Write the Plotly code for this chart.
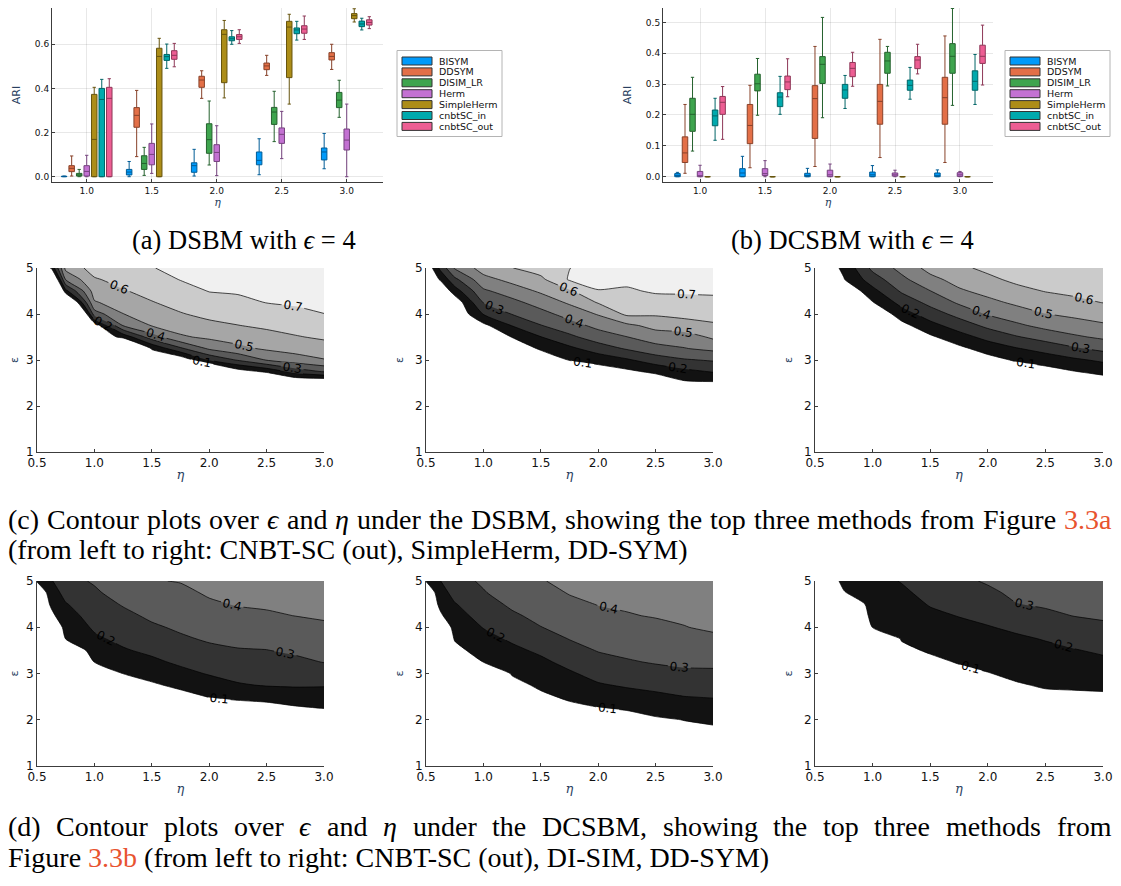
import numpy as np
import plotly.graph_objects as go

# page is 1121x886; the browser keeps an 8px body margin, so the figure is 16px smaller
PAGE_W, PAGE_H, BODY = 1121, 886, 8
FW, FH = PAGE_W - 2 * BODY, PAGE_H - 2 * BODY

# ---------------- box-plot data (ARI) ----------------
ETA_BOX = [1.0, 1.5, 2.0, 2.5, 3.0]
METHODS = ["BISYM", "DDSYM", "DISIM_LR", "Herm", "SimpleHerm", "cnbtSC_in", "cnbtSC_out"]

# (a) DSBM, one row per method, one value per eta
DSBM_LOW = [
    [0.000, 0.000, 0.003, 0.009, 0.036],
    [0.003, 0.091, 0.355, 0.459, 0.486],
    [0.000, 0.006, 0.053, 0.159, 0.269],
    [0.000, 0.015, 0.005, 0.082, 0.000],
    [0.000, 0.000, 0.357, 0.329, 0.701],
    [0.000, 0.491, 0.600, 0.619, 0.665],
    [0.000, 0.498, 0.604, 0.622, 0.671],
]
DSBM_Q1 = [
    [0.000, 0.008, 0.020, 0.054, 0.076],
    [0.023, 0.224, 0.405, 0.485, 0.529],
    [0.003, 0.033, 0.106, 0.237, 0.313],
    [0.003, 0.054, 0.069, 0.151, 0.121],
    [0.000, 0.000, 0.426, 0.449, 0.716],
    [0.000, 0.527, 0.616, 0.648, 0.680],
    [0.000, 0.532, 0.622, 0.650, 0.687],
]
DSBM_MED = [
    [0.001, 0.021, 0.050, 0.074, 0.112],
    [0.038, 0.278, 0.438, 0.502, 0.545],
    [0.008, 0.060, 0.168, 0.293, 0.347],
    [0.024, 0.101, 0.110, 0.192, 0.166],
    [0.169, 0.545, 0.645, 0.678, 0.730],
    [0.350, 0.544, 0.625, 0.665, 0.692],
    [0.355, 0.550, 0.634, 0.669, 0.699],
]
DSBM_Q3 = [
    [0.002, 0.033, 0.063, 0.112, 0.130],
    [0.050, 0.313, 0.455, 0.515, 0.562],
    [0.015, 0.095, 0.240, 0.314, 0.382],
    [0.050, 0.151, 0.145, 0.221, 0.216],
    [0.373, 0.582, 0.666, 0.704, 0.739],
    [0.400, 0.554, 0.634, 0.674, 0.705],
    [0.405, 0.571, 0.644, 0.684, 0.711],
]
DSBM_HIGH = [
    [0.003, 0.069, 0.124, 0.172, 0.196],
    [0.094, 0.391, 0.480, 0.550, 0.600],
    [0.033, 0.133, 0.343, 0.387, 0.437],
    [0.097, 0.239, 0.231, 0.296, 0.329],
    [0.405, 0.627, 0.708, 0.736, 0.761],
    [0.441, 0.601, 0.662, 0.704, 0.718],
    [0.444, 0.604, 0.666, 0.728, 0.725],
]

# (b) DCSBM
DCSBM_LOW = [
    [0.000, 0.000, 0.000, 0.000, 0.000],
    [0.011, 0.029, 0.033, 0.062, 0.046],
    [0.083, 0.199, 0.191, 0.294, 0.231],
    [0.000, 0.000, 0.000, 0.000, 0.000],
    [0.000, 0.000, 0.000, 0.000, 0.000],
    [0.118, 0.202, 0.221, 0.251, 0.234],
    [0.121, 0.259, 0.293, 0.333, 0.297],
]
DCSBM_Q1 = [
    [0.000, 0.000, 0.000, 0.000, 0.000],
    [0.046, 0.107, 0.124, 0.170, 0.170],
    [0.147, 0.278, 0.302, 0.335, 0.335],
    [0.000, 0.004, 0.000, 0.002, 0.001],
    [0.000, 0.000, 0.000, 0.000, 0.000],
    [0.165, 0.227, 0.254, 0.280, 0.280],
    [0.202, 0.282, 0.324, 0.350, 0.367],
]
DCSBM_MED = [
    [0.004, 0.012, 0.004, 0.006, 0.003],
    [0.077, 0.166, 0.253, 0.244, 0.256],
    [0.202, 0.301, 0.364, 0.375, 0.390],
    [0.003, 0.010, 0.006, 0.006, 0.006],
    [0.000, 0.000, 0.000, 0.000, 0.000],
    [0.197, 0.258, 0.281, 0.296, 0.309],
    [0.241, 0.307, 0.351, 0.378, 0.390],
]
DCSBM_Q3 = [
    [0.010, 0.026, 0.011, 0.015, 0.012],
    [0.129, 0.234, 0.295, 0.299, 0.322],
    [0.254, 0.332, 0.389, 0.403, 0.431],
    [0.017, 0.026, 0.021, 0.012, 0.013],
    [0.000, 0.000, 0.000, 0.000, 0.000],
    [0.216, 0.272, 0.299, 0.313, 0.343],
    [0.260, 0.326, 0.370, 0.389, 0.426],
]
DCSBM_HIGH = [
    [0.014, 0.066, 0.027, 0.036, 0.022],
    [0.234, 0.296, 0.422, 0.445, 0.456],
    [0.322, 0.383, 0.516, 0.422, 0.545],
    [0.037, 0.052, 0.041, 0.021, 0.017],
    [0.000, 0.000, 0.000, 0.000, 0.000],
    [0.254, 0.325, 0.328, 0.354, 0.396],
    [0.292, 0.382, 0.403, 0.429, 0.491],
]

# ---------------- contour data (ARI over eta x epsilon) ----------------
ETA_GRID = [0.5, 0.625, 0.75, 1.0, 1.25, 1.5, 1.75, 2.0, 2.25, 2.5, 2.75, 3.0]
EPS_GRID = [1.0, 2.0, 2.25, 2.5, 2.75, 3.0, 3.25, 3.5, 3.75, 4.0, 4.25, 4.5, 4.75, 5.0]
# one list per eta value (columns), values follow EPS_GRID

# (c) DSBM: CNBT-SC (out)
DSBM_CNBT_OUT = [
    [0, 0, 0, 0, 0, 0, 0, 0, 0, 0, 0, 0, 0, 0],
    [0, 0, 0, 0, 0, 0, 0, 0, 0, 0, 0, -0.4, -0.14, 0.11],
    [0, 0, 0, 0, 0, 0, 0, 0, 0, -0.6, -0.18, 0.17, 0.405, 0.53],
    [0, 0, 0, 0, 0, 0, 0, 0, 0.04, 0.35, 0.49, 0.545, 0.59, 0.64],
    [0, 0, 0, 0, 0, 0, -0.23, 0.13, 0.405, 0.498, 0.546, 0.593, 0.632, 0.67],
    [0, 0, 0, 0, 0, 0, 0.11, 0.353, 0.505, 0.55, 0.595, 0.63, 0.664, 0.697],
    [0, 0, 0, 0, 0, 0.014, 0.283, 0.486, 0.545, 0.594, 0.631, 0.667, 0.703, 0.72],
    [0, 0, 0, 0, -0.18, 0.209, 0.416, 0.52, 0.577, 0.624, 0.665, 0.703, 0.72, 0.74],
    [0, 0, 0, 0, 0.048, 0.309, 0.475, 0.544, 0.598, 0.639, 0.678, 0.71, 0.73, 0.75],
    [0, 0, 0, -0.15, 0.122, 0.405, 0.515, 0.568, 0.617, 0.658, 0.702, 0.72, 0.74, 0.76],
    [0, 0, 0, -0.03, 0.242, 0.456, 0.538, 0.593, 0.637, 0.68, 0.71, 0.73, 0.75, 0.76],
    [0, 0, 0, -0.04, 0.31, 0.494, 0.559, 0.614, 0.657, 0.699, 0.72, 0.74, 0.75, 0.76],
]
# (c) DSBM: SimpleHerm
DSBM_SIMPLEHERM = [
    [0, 0, 0, 0, 0, 0, 0, 0, 0, 0, 0, 0, 0, 0],
    [0, 0, 0, 0, 0, 0, 0, 0, 0, 0, 0, 0, 0.11, 0.225],
    [0, 0, 0, 0, 0, 0, 0, 0, 0, 0, 0.025, 0.15, 0.275, 0.41],
    [0, 0, 0, 0, 0, 0, 0, 0, 0.074, 0.205, 0.303, 0.383, 0.467, 0.543],
    [0, 0, 0, 0, 0, 0, 0, 0.104, 0.204, 0.304, 0.371, 0.45, 0.529, 0.598],
    [0, 0, 0, 0, 0, 0, 0.119, 0.197, 0.296, 0.367, 0.441, 0.515, 0.578, 0.644],
    [0, 0, 0, 0, 0, 0.105, 0.178, 0.278, 0.361, 0.438, 0.514, 0.586, 0.71, 0.698],
    [0, 0, 0, 0, 0.043, 0.138, 0.25, 0.35, 0.428, 0.508, 0.607, 0.696, 0.73, 0.75],
    [0, 0, 0, 0, 0.078, 0.187, 0.311, 0.398, 0.478, 0.62, 0.633, 0.689, 0.72, 0.74],
    [0, 0, 0, 0.004, 0.124, 0.25, 0.364, 0.45, 0.532, 0.613, 0.666, 0.71, 0.73, 0.75],
    [0, 0, 0, 0.081, 0.174, 0.29, 0.396, 0.45, 0.563, 0.625, 0.675, 0.71, 0.73, 0.75],
    [0, 0, 0, 0.085, 0.208, 0.31, 0.424, 0.517, 0.586, 0.637, 0.683, 0.71, 0.73, 0.74],
]
# (c) DSBM: DD-SYM
DSBM_DDSYM = [
    [0, 0, 0, 0, 0, 0, 0, 0, 0, 0, 0, 0, 0, 0],
    [0, 0, 0, 0, 0, 0, 0, 0, 0, 0, 0, 0, 0, 0.06],
    [0, 0, 0, 0, 0, 0, 0, 0, 0, 0, 0, 0, 0.095, 0.12],
    [0, 0, 0, 0, 0, 0, 0, 0, 0, 0, 0.094, 0.17, 0.25, 0.325],
    [0, 0, 0, 0, 0, 0, 0, 0, 0.067, 0.15, 0.233, 0.3125, 0.375, 0.43],
    [0, 0, 0, 0, 0, 0, 0, 0.083, 0.167, 0.25, 0.329, 0.398, 0.471, 0.533],
    [0, 0, 0, 0, 0, 0, 0.076, 0.16, 0.246, 0.333, 0.414, 0.486, 0.536, 0.582],
    [0, 0, 0, 0, 0, 0.06, 0.143, 0.231, 0.324, 0.408, 0.474, 0.53, 0.58, 0.62],
    [0, 0, 0, 0, 0.031, 0.113, 0.194, 0.292, 0.382, 0.454, 0.518, 0.573, 0.62, 0.64],
    [0, 0, 0, 0, 0.058, 0.145, 0.2375, 0.34, 0.429, 0.498, 0.552, 0.604, 0.63, 0.65],
    [0, 0, 0, 0, 0.097, 0.183, 0.287, 0.385, 0.458, 0.522, 0.578, 0.62, 0.64, 0.66],
    [0, 0, 0, 0.04, 0.128, 0.218, 0.327, 0.417, 0.486, 0.545, 0.602, 0.63, 0.65, 0.67],
]
# (d) DCSBM: CNBT-SC (out)
DCSBM_CNBT_OUT = [
    [0, 0, 0, 0, 0, 0, 0, 0, 0, 0, 0, 0, 0, 0.11],
    [0, 0, 0, 0, 0, 0, 0, 0, 0, 0, 0.077, 0.115, 0.154, 0.192],
    [0, 0, 0, 0, 0, 0, 0, 0, 0.102, 0.131, 0.1625, 0.194, 0.231, 0.269],
    [0, 0, 0, 0, 0, 0, 0.102, 0.142, 0.183, 0.214, 0.238, 0.262, 0.286, 0.31],
    [0, 0, 0, 0, 0, 0.102, 0.145, 0.191, 0.222, 0.25, 0.278, 0.307, 0.34, 0.373],
    [0, 0, 0, 0, 0.087, 0.134, 0.181, 0.22, 0.253, 0.287, 0.316, 0.342, 0.368, 0.395],
    [0, 0, 0, 0.069, 0.121, 0.173, 0.217, 0.252, 0.287, 0.314, 0.337, 0.359, 0.382, 0.404],
    [0, 0, 0.054, 0.104, 0.157, 0.207, 0.243, 0.279, 0.311, 0.337, 0.363, 0.389, 0.41, 0.425],
    [0, 0, 0.053, 0.122, 0.192, 0.229, 0.261, 0.294, 0.323, 0.352, 0.38, 0.405, 0.42, 0.43],
    [0, 0, 0.059, 0.1375, 0.206, 0.2375, 0.269, 0.298, 0.33, 0.36, 0.39, 0.41, 0.42, 0.43],
    [0, 0, 0.087, 0.153, 0.21, 0.246, 0.281, 0.314, 0.343, 0.372, 0.401, 0.415, 0.425, 0.435],
    [0, 0, 0.102, 0.154, 0.208, 0.257, 0.303, 0.331, 0.358, 0.386, 0.41, 0.42, 0.43, 0.44],
]
# (d) DCSBM: DI-SIM
DCSBM_DISIM = [
    [0, 0, 0, 0, 0, 0, 0, 0, 0, 0, 0, 0, 0, 0.105],
    [0, 0, 0, 0, 0, 0, 0, 0, 0, 0, 0.085, 0.123, 0.162, 0.198],
    [0, 0, 0, 0, 0, 0, 0, 0.076, 0.106, 0.135, 0.165, 0.194, 0.231, 0.269],
    [0, 0, 0, 0, 0, 0, 0.102, 0.135, 0.169, 0.204, 0.234, 0.264, 0.294, 0.3125],
    [0, 0, 0, 0, 0.072, 0.107, 0.143, 0.179, 0.214, 0.25, 0.286, 0.316, 0.342, 0.368],
    [0, 0, 0, 0.083, 0.116, 0.148, 0.181, 0.217, 0.258, 0.298, 0.324, 0.348, 0.371, 0.395],
    [0, 0, 0.078, 0.115, 0.151, 0.188, 0.227, 0.266, 0.303, 0.329, 0.355, 0.381, 0.405, 0.42],
    [0, 0, 0.096, 0.143, 0.191, 0.231, 0.269, 0.305, 0.33, 0.355, 0.38, 0.403, 0.42, 0.43],
    [0, 0.06, 0.11, 0.163, 0.211, 0.252, 0.292, 0.32, 0.345, 0.37, 0.395, 0.41, 0.42, 0.43],
    [0, 0.087, 0.134, 0.181, 0.226, 0.269, 0.307, 0.333, 0.359, 0.381, 0.405, 0.415, 0.425, 0.435],
    [0, 0.102, 0.151, 0.199, 0.242, 0.283, 0.317, 0.344, 0.372, 0.398, 0.41, 0.42, 0.43, 0.44],
    [0, 0.113, 0.16, 0.206, 0.245, 0.284, 0.32, 0.353, 0.387, 0.41, 0.42, 0.43, 0.44, 0.45],
]
# (d) DCSBM: DD-SYM
DCSBM_DDSYM = [
    [0, 0, 0, 0, 0, 0, 0, 0, 0, 0, 0, 0, 0, 0],
    [0, 0, 0, 0, 0, 0, 0, 0, 0, 0, 0, 0, 0, 0.06],
    [0, 0, 0, 0, 0, 0, 0, 0, 0, 0, 0, 0, 0.095, 0.12],
    [0, 0, 0, 0, 0, 0, 0, 0, 0, 0.102, 0.118, 0.136, 0.154, 0.171],
    [0, 0, 0, 0, 0, 0, 0, 0.084, 0.104, 0.124, 0.144, 0.164, 0.184, 0.204],
    [0, 0, 0, 0, 0, 0, 0.083, 0.108, 0.133, 0.157, 0.182, 0.206, 0.227, 0.249],
    [0, 0, 0, 0, 0, 0.08, 0.105, 0.129, 0.154, 0.178, 0.203, 0.229, 0.254, 0.28],
    [0, 0, 0, 0, 0, 0.097, 0.122, 0.146, 0.171, 0.195, 0.224, 0.253, 0.282, 0.31],
    [0, 0, 0, 0, 0.093, 0.117, 0.14, 0.163, 0.186, 0.217, 0.258, 0.298, 0.32, 0.34],
    [0, 0, 0, 0.083, 0.108, 0.131, 0.155, 0.179, 0.205, 0.244, 0.283, 0.31, 0.325, 0.34],
    [0, 0, 0, 0.085, 0.112, 0.14, 0.167, 0.195, 0.23, 0.267, 0.302, 0.315, 0.33, 0.345],
    [0, 0, 0, 0.086, 0.118, 0.149, 0.181, 0.214, 0.25, 0.286, 0.31, 0.325, 0.34, 0.35],
]

CONTOUR_TICKS_X = [0.5, 1.0, 1.5, 2.0, 2.5, 3.0]
CONTOUR_TICKS_Y = [1, 2, 3, 4, 5]

# ---------------- styling ----------------
COLORS = ["#009AFA", "#E36F47", "#3EA44E", "#C371D2", "#AC8D18", "#00A9AD", "#ED5E93"]
BAND_COLORS = ["#ffffff", "#121212", "#333333", "#5a5a5a", "#808080",
               "#a6a6a6", "#cbcbcb", "#f0f0f0"]
TICK_FONT = "DejaVu Sans"
CAP_FONT = "Liberation Serif"
# advance widths (1/1000 em) of the caption serif font, used to justify long lines
SERIF_W = {" ": 250, "(": 333, ")": 333, ",": 250, ".": 250, "a": 444, "c": 444,
           "d": 500, "e": 444, "f": 333, "g": 500, "h": 500, "i": 278, "l": 278,
           "m": 778, "n": 500, "o": 500, "p": 500, "r": 333, "s": 389, "t": 278,
           "u": 500, "v": 500, "w": 722, "B": 667, "C": 667, "D": 722, "F": 556,
           "M": 889, "S": 556, "3": 500, "ϵ": 440, "η": 500}


def darker(hexc, f=0.6):
    r, g, b = int(hexc[1:3], 16), int(hexc[3:5], 16), int(hexc[5:7], 16)
    return "rgb(%d,%d,%d)" % (r * f, g * f, b * f)


def fx(px):  # page pixel -> paper fraction
    return (px - BODY) / FW


def fy(py):
    return 1 - (py - BODY) / FH


def dom_x(a, b):
    return [max(0.0, fx(a)), min(1.0, fx(b))]


def dom_y(top, bottom):
    return [max(0.0, fy(bottom)), min(1.0, fy(top))]


fig = go.Figure()

# ---- box plots ----
box_panels = [
    ("x", "y", DSBM_LOW, DSBM_Q1, DSBM_MED, DSBM_Q3, DSBM_HIGH),
    ("x2", "y2", DCSBM_LOW, DCSBM_Q1, DCSBM_MED, DCSBM_Q3, DCSBM_HIGH),
]
for xa, ya, lo, q1, md, q3, hi in box_panels:
    for i, m in enumerate(METHODS):
        fig.add_trace(go.Box(
            x=ETA_BOX, lowerfence=lo[i], q1=q1[i], median=md[i], q3=q3[i],
            upperfence=hi[i], name=m, xaxis=xa, yaxis=ya,
            fillcolor=COLORS[i], line=dict(color=darker(COLORS[i]), width=1),
            whiskerwidth=0.6, boxpoints=False, showlegend=False,
            offsetgroup=str(i), hoverinfo="skip"))

# ---- contour plots ----
contour_panels = [
    (DSBM_CNBT_OUT, (37, 324), (268, 452)),
    (DSBM_SIMPLEHERM, (426, 713), (268, 452)),
    (DSBM_DDSYM, (815, 1103), (268, 452)),
    (DCSBM_CNBT_OUT, (37, 324), (581, 766)),
    (DCSBM_DISIM, (426, 713), (581, 766)),
    (DCSBM_DDSYM, (815, 1103), (581, 766)),
]
n = len(BAND_COLORS) - 1
cscale = [[k / n, c] for k, c in enumerate(BAND_COLORS)]

layout_axes = {}
axis_common = dict(showline=True, linecolor="#3c3c3c", linewidth=1, mirror=False,
                   showgrid=True, gridcolor="rgba(0,0,0,0.09)", gridwidth=1,
                   zeroline=False, ticks="inside", ticklen=3, tickcolor="#3c3c3c",
                   automargin=False,
                   tickfont=dict(family=TICK_FONT, color="#111"))

for k, (cols, (xa, xb), (yt, yb)) in enumerate(contour_panels):
    idx = k + 3
    z = np.array(cols, dtype=float).T
    fig.add_trace(go.Contour(
        x=ETA_GRID, y=EPS_GRID, z=z, xaxis="x%d" % idx, yaxis="y%d" % idx,
        autocontour=False,
        contours=dict(start=0.1, end=0.7, size=0.1, coloring="fill",
                      showlabels=True,
                      labelfont=dict(family=TICK_FONT, size=12, color="black")),
        colorscale=cscale, showscale=False,
        line=dict(color="black", width=0.7, smoothing=0.6),
        hoverinfo="skip"))
    layout_axes["xaxis%d" % idx] = dict(
        axis_common, domain=dom_x(xa, xb), anchor="y%d" % idx, range=[0.5, 3.0],
        tickvals=CONTOUR_TICKS_X, tickformat=".1f",
        tickfont=dict(family=TICK_FONT, size=12, color="#111"),
        title=dict(text="<i>η</i>", font=dict(family="DejaVu Serif", size=13), standoff=0))
    layout_axes["yaxis%d" % idx] = dict(
        axis_common, domain=dom_y(yt, yb), anchor="x%d" % idx, range=[1, 5],
        tickvals=CONTOUR_TICKS_Y,
        tickfont=dict(family=TICK_FONT, size=12, color="#111"),
        title=dict(text="ε", font=dict(family="DejaVu Sans", size=11), standoff=9))

# box axes (top edge of the page margin clips the first few pixels)
layout_axes["xaxis"] = dict(axis_common, domain=dom_x(52, 383), anchor="y",
                            range=[0.733, 3.279], tickvals=ETA_BOX, tickformat=".1f",
                            tickfont=dict(family=TICK_FONT, size=9, color="#111"),
                            title=dict(text="<i>η</i>", font=dict(family="DejaVu Serif", size=11),
                                       standoff=2))
layout_axes["yaxis"] = dict(axis_common, domain=dom_y(8, 182), anchor="x",
                            range=[-0.024, 0.7644], dtick=0.2, tick0=0, tickformat=".1f",
                            tickfont=dict(family=TICK_FONT, size=9, color="#111"),
                            title=dict(text="ARI", font=dict(family=TICK_FONT, size=11),
                                       standoff=12))
layout_axes["xaxis2"] = dict(axis_common, domain=dom_x(663, 993), anchor="y2",
                             range=[0.715, 3.254], tickvals=ETA_BOX, tickformat=".1f",
                             tickfont=dict(family=TICK_FONT, size=9, color="#111"),
                             title=dict(text="<i>η</i>", font=dict(family="DejaVu Serif", size=11),
                                        standoff=2))
layout_axes["yaxis2"] = dict(axis_common, domain=dom_y(8, 182), anchor="x2",
                             range=[-0.0172, 0.5465], dtick=0.1, tick0=0, tickformat=".1f",
                             tickfont=dict(family=TICK_FONT, size=9, color="#111"),
                             title=dict(text="ARI", font=dict(family=TICK_FONT, size=11),
                                        standoff=12))

# ---- compact legends, drawn like the original ----
shapes = []
annotations = []
for x0 in (397, 1005):
    shapes.append(dict(type="rect", xref="paper", yref="paper",
                       x0=fx(x0), x1=fx(x0 + 105), y0=fy(136.5), y1=fy(50.5),
                       line=dict(color="#b4b4b4", width=1), fillcolor="white", layer="above"))
    for i, m in enumerate(METHODS):
        yc = 61 + i * 10.9
        shapes.append(dict(type="rect", xref="paper", yref="paper",
                           x0=fx(x0 + 5), x1=fx(x0 + 35), y0=fy(yc + 4), y1=fy(yc - 4),
                           line=dict(color="#333", width=1), fillcolor=COLORS[i], layer="above"))
        annotations.append(dict(xref="paper", yref="paper", x=fx(x0 + 40), y=fy(yc),
                                xanchor="left", yanchor="middle", showarrow=False, text=m,
                                font=dict(family=TICK_FONT, size=9.5, color="#111")))

# ---- captions ----
REF = "<span style='color:#E8532F'>%s</span>"
CAP_LEFT, CAP_RIGHT = 8, 1111


def cap(text, xpx, ypx, anchor="left", size=28):
    annotations.append(dict(xref="paper", yref="paper", x=fx(xpx), y=fy(ypx),
                            xanchor=anchor, yanchor="middle", showarrow=False,
                            borderpad=0, borderwidth=0,
                            text=text, font=dict(family=CAP_FONT, size=size, color="black")))


def text_width(s, size):
    return sum(SERIF_W.get(ch, 500) for ch in s) * size / 1000.0


def justified(words, ypx, x_left=CAP_LEFT, x_right=CAP_RIGHT, size=28):
    """Place the words of a justified caption line one by one."""
    items = [(w, w) if isinstance(w, str) else w for w in words]
    widths = [text_width(plain, size) for _, plain in items]
    gap = (x_right - x_left - sum(widths)) / (len(items) - 1)
    x = x_left
    for (html, _), w in zip(items, widths):
        cap(html, x, ypx, "left", size)
        x += w + gap


cap("(a) DSBM with <i>ϵ</i> = 4", 244, 240, "center", 26.5)
cap("(b) DCSBM with <i>ϵ</i> = 4", 852, 240, "center", 26.5)
justified(["(c)", "Contour", "plots", "over", ("<i>ϵ</i>", "ϵ"), "and", ("<i>η</i>", "η"),
           "under", "the", "DSBM,", "showing", "the", "top", "three", "methods", "from",
           "Figure", (REF % "3.3a", "3.3a")], 519)
cap("(from left to right: CNBT-SC (out), SimpleHerm, DD-SYM)", CAP_LEFT, 549)
justified(["(d)", "Contour", "plots", "over", ("<i>ϵ</i>", "ϵ"), "and", ("<i>η</i>", "η"),
           "under", "the", "DCSBM,", "showing", "the", "top", "three", "methods", "from"], 826)
cap("Figure " + REF % "3.3b" + " (from left to right: CNBT-SC (out), DI-SIM, DD-SYM)",
    CAP_LEFT, 857)

fig.update_layout(
    width=FW, height=FH, autosize=False,
    margin=dict(l=0, r=0, t=0, b=0, autoexpand=False),
    paper_bgcolor="white", plot_bgcolor="white",
    boxmode="group", boxgap=0.19, boxgroupgap=0.27,
    showlegend=False, shapes=shapes, annotations=annotations,
    **layout_axes)

fig.write_html("out.html", include_plotlyjs=True, full_html=True,
               config={"displayModeBar": False})
